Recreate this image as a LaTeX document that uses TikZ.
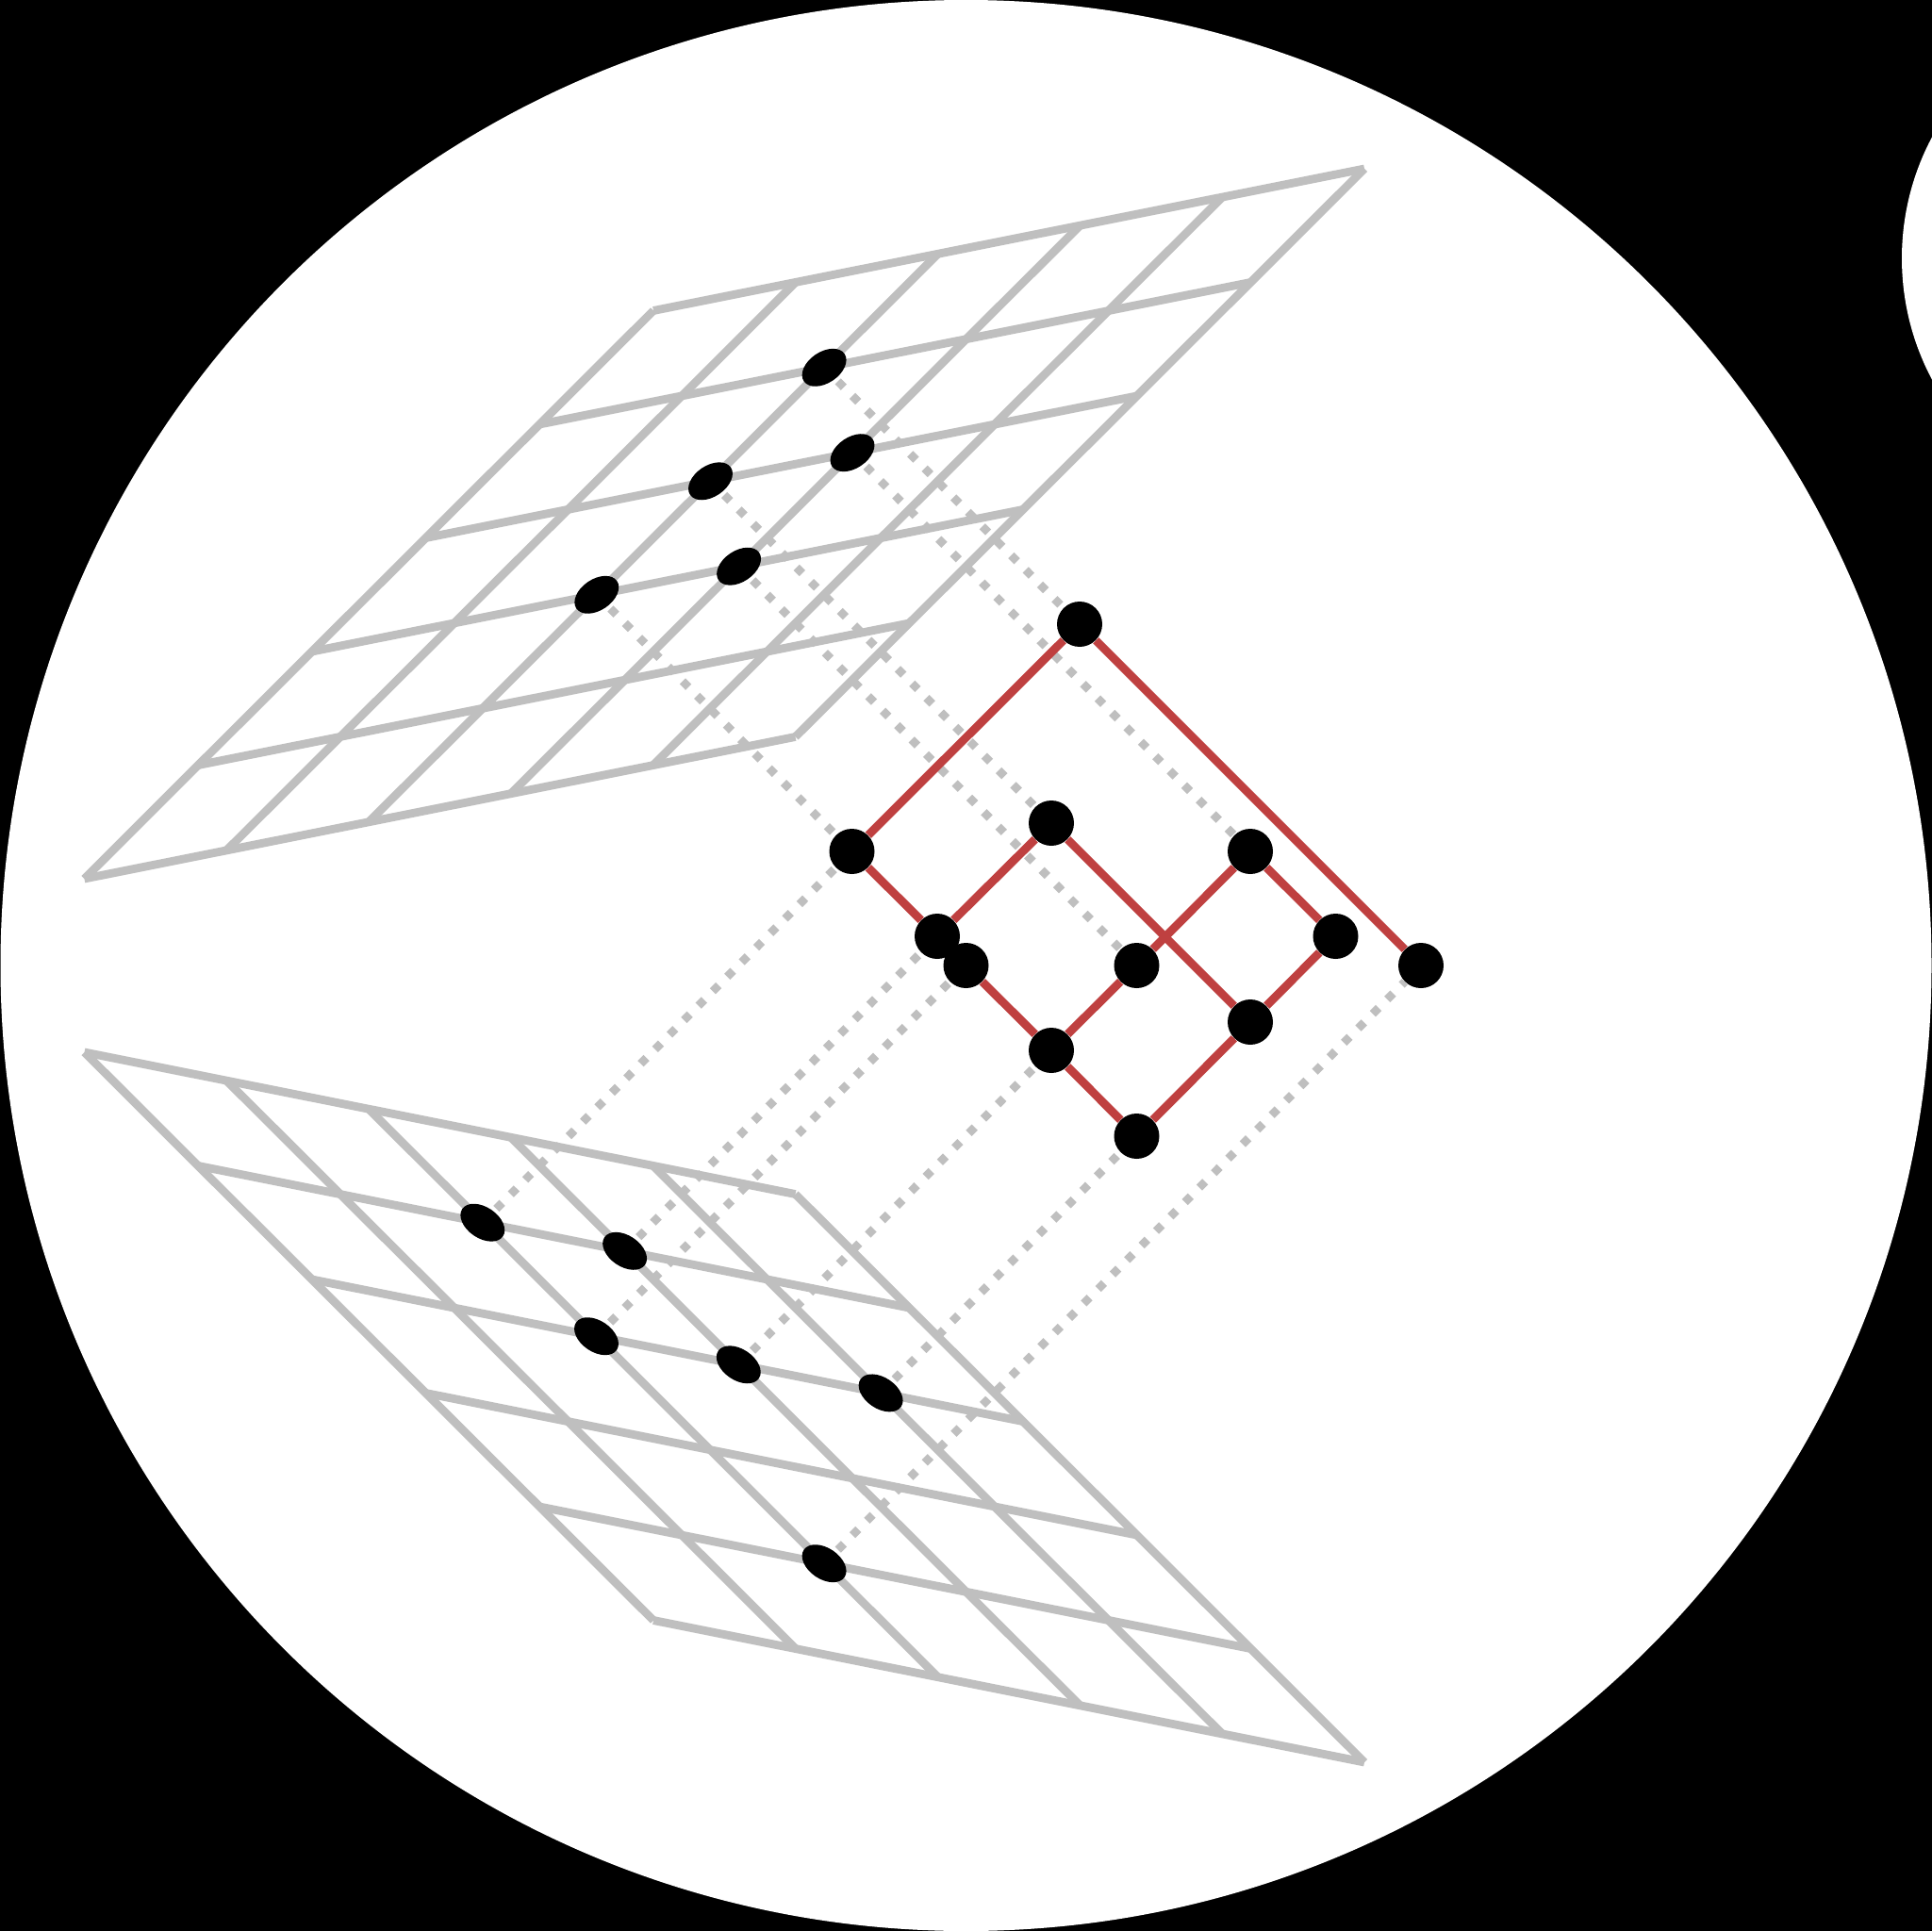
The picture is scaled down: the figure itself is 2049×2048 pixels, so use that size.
\documentclass[tikz,border=0pt]{standalone}
\definecolor{gridgray}{RGB}{191,191,191}
\definecolor{latred}{RGB}{191,64,64}
\tikzset{
  gridline/.style={draw=gridgray,line width=4.4pt},
  dotline/.style={draw=gridgray,line width=4.4pt,dash pattern=on 4.4pt off 6.45pt,dash phase=0.5pt},
  redline/.style={draw=latred,line width=4.4pt},
  latnode/.style={circle,fill=black,draw=none,inner sep=0pt,minimum size=24pt},
  blob/.pic={\fill[black] (0,0) circle[x radius=26,y radius=16.5,rotate=34];}
}
\begin{document}
\begin{tikzpicture}[x=0.5pt,y=-0.5pt]
\useasboundingbox (0,0) rectangle (2049,2048);
\fill[black] (0,0) rectangle (2049,2048);
\fill[white] (1024.5,1024) circle[radius=512pt];
\begin{scope}
\clip (0,0) rectangle (2049,2048);
\fill[white] (2291,274) circle[radius=137pt];
\end{scope}
% planes
\foreach \k in {0,...,5}{
  \draw[gridline] ({89.5+\k*150.8},{932-\k*30.1}) -- ({89.5+\k*150.8+5*120.7},{932-\k*30.1-5*120.5});
  \draw[gridline] ({89.5+\k*120.7},{932-\k*120.5}) -- ({89.5+5*150.8+\k*120.7},{932-5*30.1-\k*120.5});
  \draw[gridline] ({89.5+\k*150.8},{1116+\k*30.1}) -- ({89.5+\k*150.8+5*120.7},{1116+\k*30.1+5*120.5});
  \draw[gridline] ({89.5+\k*120.7},{1116+\k*120.5}) -- ({89.5+5*150.8+\k*120.7},{1116+5*30.1+\k*120.5});
}
% plane points: x = 89.5 + i*150.8 + j*120.7, y = 932 - i*30.1 - j*120.5 (mirrored: 1116 + ...)
\coordinate (t24) at (874.1,389.8);
\coordinate (t33) at (904.0,480.2);
\coordinate (t23) at (753.5,510.3);
\coordinate (t22) at (632.8,630.8);
\coordinate (t32) at (783.6,600.7);
\coordinate (b21) at (511.8,1296.7);
\coordinate (b31) at (662.6,1326.8);
\coordinate (b22) at (632.5,1417.2);
\coordinate (b32) at (783.3,1447.3);
\coordinate (b42) at (934.1,1477.4);
\coordinate (b24) at (874.1,1658.2);
% lattice nodes
\node[latnode] (top) at (1145,662) {};
\node[latnode] (a) at (903.5,903) {};
\node[latnode] (b) at (1115,873) {};
\node[latnode] (c) at (994,993) {};
\node[latnode] (d) at (1024.5,1024) {};
\node[latnode] (e) at (1326,903) {};
\node[latnode] (f) at (1205.5,1024) {};
\node[latnode] (g) at (1416.5,993) {};
\node[latnode] (h) at (1507,1024) {};
\node[latnode] (i) at (1115,1114) {};
\node[latnode] (j) at (1326,1084) {};
\node[latnode] (k) at (1205.5,1205) {};
% projections
\draw[dotline] (t24) -- (top);
\draw[dotline] (t33) -- (e);
\draw[dotline] (t23) -- (b);
\draw[dotline] (t22) -- (a);
\draw[dotline] (t32) -- (f);
\draw[dotline] (b21) -- (a);
\draw[dotline] (b31) -- (c);
\draw[dotline] (b22) -- (d);
\draw[dotline] (b32) -- (i);
\draw[dotline] (b42) -- (k);
\draw[dotline] (b24) -- (h);
% lattice edges
\draw[redline] (top) -- (a);
\draw[redline] (top) -- (h);
\draw[redline] (a) -- (c);
\draw[redline] (c) -- (b);
\draw[redline] (b) -- (j);
\draw[redline] (d) -- (i);
\draw[redline] (i) -- (k);
\draw[redline] (i) -- (f);
\draw[redline] (f) -- (e);
\draw[redline] (e) -- (g);
\draw[redline] (g) -- (j);
\draw[redline] (j) -- (k);
% plane points
\foreach \p in {t24,t33,t23,t22,t32}{\pic at (\p) {blob};}
\foreach \p in {b21,b31,b22,b32,b42,b24}{\pic[yscale=-1] at (\p) {blob};}
\end{tikzpicture}
\end{document}
